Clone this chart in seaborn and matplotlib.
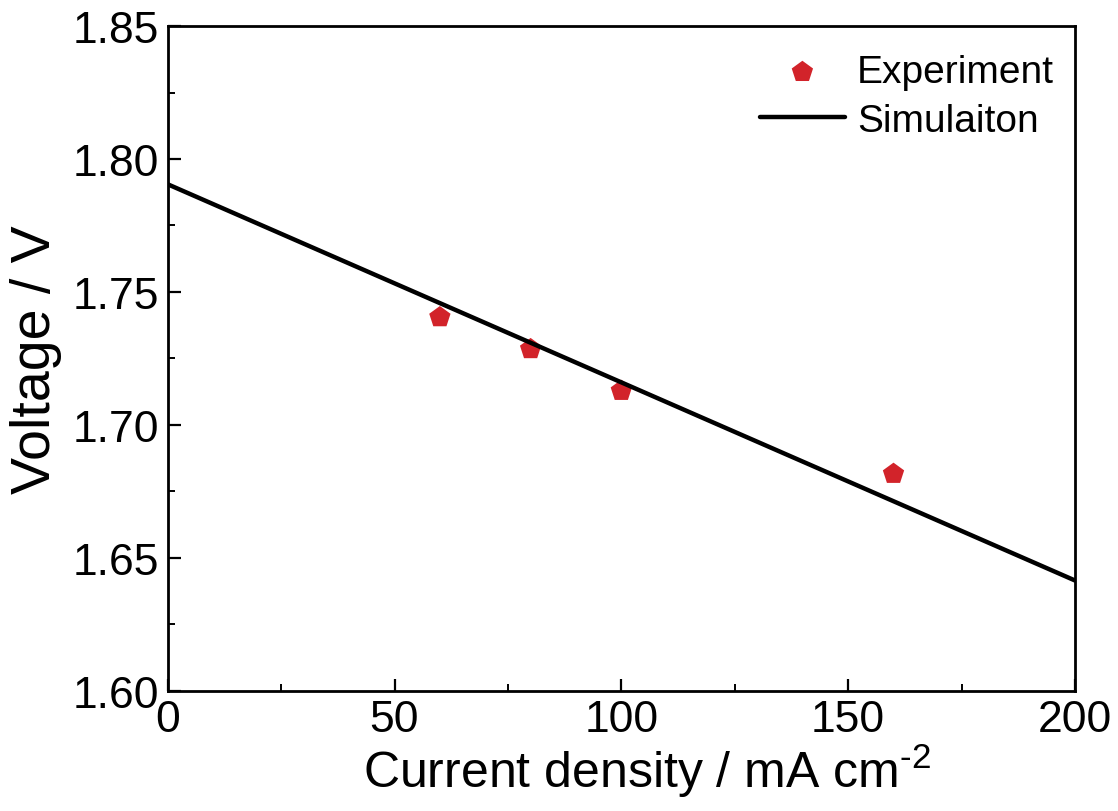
import matplotlib
matplotlib.use('Agg')
import matplotlib.pyplot as plt
import numpy as np
import seaborn as sns
from matplotlib.ticker import MultipleLocator, FormatStrFormatter

# experiment points
exp_current = [60, 80, 100, 160]
exp_voltage = [1.7405, 1.7285, 1.7128, 1.6816]

# simulation line
sim_current = [0, 200]
sim_voltage = [1.7905, 1.6415]

sns.set_style("white")
plt.rcParams['font.family'] = ['Liberation Sans', 'DejaVu Sans']
plt.rcParams['mathtext.fontset'] = 'custom'
plt.rcParams['mathtext.rm'] = 'Liberation Sans'
plt.rcParams['text.color'] = 'black'
plt.rcParams['axes.labelcolor'] = 'black'
plt.rcParams['xtick.color'] = 'black'
plt.rcParams['ytick.color'] = 'black'

fig = plt.figure(figsize=(11.18, 8.12), dpi=100)
ax = fig.add_axes([0.150, 0.148, 0.8115, 0.8187])

sns.lineplot(x=sim_current, y=sim_voltage, color='black', linewidth=3.2,
             label='Simulaiton', ax=ax, zorder=3)
sns.scatterplot(x=exp_current, y=exp_voltage, marker='p', s=260, color='#d2232a',
                edgecolor='none', label='Experiment', ax=ax, zorder=2)

ax.set_xlim(0, 200)
ax.set_ylim(1.60, 1.85)
ax.xaxis.set_major_locator(MultipleLocator(50))
ax.xaxis.set_minor_locator(MultipleLocator(25))
ax.yaxis.set_major_locator(MultipleLocator(0.05))
ax.yaxis.set_minor_locator(MultipleLocator(0.025))
ax.yaxis.set_major_formatter(FormatStrFormatter('%.2f'))

ax.tick_params(which='major', direction='in', length=9, width=1.6, labelsize=32,
               bottom=True, left=True, top=False, right=False, pad=6)
ax.tick_params(which='minor', direction='in', length=5, width=1.4,
               bottom=True, left=True, top=False, right=False)
for sp in ax.spines.values():
    sp.set_linewidth(2)
    sp.set_color('black')

ax.set_xlabel(r'Current density / mA cm$^{\mathrm{\text{-}2}}$', fontsize=36, labelpad=0)
ax.xaxis.set_label_coords(0.528, -0.075)
ax.set_ylabel('Voltage / V', fontsize=40, labelpad=8)

handles, labels = ax.get_legend_handles_labels()
order = [labels.index('Experiment'), labels.index('Simulaiton')]
ax.legend([handles[i] for i in order], [labels[i] for i in order],
          loc='upper right', bbox_to_anchor=(1.011, 1.0045),
          fontsize=28, frameon=False, handlelength=2.2,
          handletextpad=0.3, borderaxespad=0.4, labelspacing=0.33)

plt.savefig('out.png', dpi=100)
plt.close()
